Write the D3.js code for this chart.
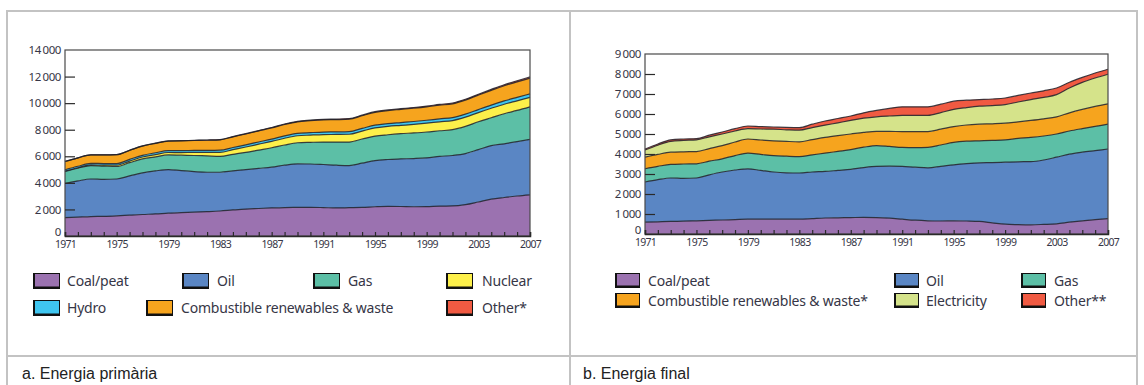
<!DOCTYPE html>
<html>
<head>
<meta charset="utf-8">
<script src="https://cdn.jsdelivr.net/npm/d3@7"></script>
<style>
  html, body { margin: 0; padding: 0; background: #fff; }
  svg { display: block; }
  .tick text { font-family: "Noto Sans", sans-serif; fill: #363646; }
  .leg { font-family: "Noto Sans", sans-serif; fill: #363646; font-size: 14px; }
  .cap { font-family: "Liberation Sans", Arial, sans-serif; fill: #222; font-size: 16px; }
</style>
</head>
<body>
<svg id="chart" width="1144" height="385"></svg>
<script>
// ---------- categories ----------
const years = [1971,1972,1973,1974,1975,1976,1977,1978,1979,1980,1981,1982,1983,1984,1985,1986,1987,1988,1989,1990,
               1991,1992,1993,1994,1995,1996,1997,1998,1999,2000,2001,2002,2003,2004,2005,2006,2007];
const yearLabels = [1971,1975,1979,1983,1987,1991,1995,1999,2003,2007];

// ---------- a. Energia primària (Mtoe) ----------
const pCoal = [1380,1420,1460,1480,1520,1570,1620,1660,1720,1760,1790,1830,1880,1960,2030,2070,2110,2140,2150,2160,
               2140,2110,2130,2150,2200,2230,2220,2200,2210,2250,2260,2360,2560,2770,2900,3010,3100];
const pOil  = [2580,2730,2830,2780,2770,2950,3130,3240,3280,3160,3060,2970,2920,2940,2970,3020,3070,3190,3280,3260,
               3240,3220,3170,3330,3480,3530,3580,3630,3670,3740,3800,3840,3940,4030,4040,4090,4170];
const pGas  = [890,950,1010,1000,940,1000,1050,1060,1100,1160,1210,1230,1200,1250,1300,1380,1460,1520,1590,1630,
               1690,1740,1770,1820,1840,1860,1900,1930,1950,1930,1940,2050,2100,2100,2260,2350,2450];
const pNuclear = [30,40,55,75,100,120,145,170,185,200,230,260,300,350,400,440,480,510,525,545,
                  565,575,590,600,615,630,625,640,660,675,690,695,690,715,720,725,710];
const pHydro = [105,108,110,120,123,125,128,135,140,145,148,152,158,162,165,168,170,175,176,184,
                189,190,200,202,210,212,216,220,222,225,221,225,225,238,250,259,265];
const pComb = [620,630,640,650,665,680,695,710,720,735,750,765,780,800,815,830,845,860,875,900,
               915,925,935,950,965,980,990,1000,1010,1025,1040,1060,1085,1110,1140,1165,1190];
const pOther = [6,6,7,7,8,9,10,11,12,13,15,17,20,23,26,28,30,32,35,37,
                39,40,42,44,46,48,50,52,55,58,60,64,68,73,78,84,90];

// ---------- b. Energia final (Mtoe) ----------
const fCoal = [590,610,630,640,660,680,700,720,740,740,740,740,740,770,800,810,820,830,820,790,
               740,690,660,650,660,650,630,560,490,470,460,480,510,590,660,720,770];
const fOil  = [2010,2110,2170,2140,2140,2280,2400,2480,2520,2440,2360,2320,2310,2330,2330,2370,2410,2490,2560,2600,
               2640,2650,2650,2730,2800,2870,2930,3010,3100,3140,3160,3220,3330,3400,3430,3450,3480];
const fGas  = [660,660,680,720,710,680,660,720,780,800,820,830,820,860,910,950,990,1020,1040,990,
               950,980,1020,1070,1120,1120,1100,1110,1120,1170,1210,1200,1160,1160,1180,1210,1240];
const fComb = [580,600,610,610,610,630,660,680,710,720,740,740,740,760,790,790,780,740,710,750,
               790,800,790,790,790,810,830,830,830,830,850,860,860,910,960,1000,1020];
const fElec = [360,460,540,570,590,590,580,550,520,550,580,580,580,600,610,640,680,710,730,770,
               810,810,810,830,860,870,900,910,930,990,1040,1070,1110,1240,1350,1420,1480];
const fOther = [50,60,80,70,60,80,100,115,130,120,110,120,130,170,210,215,220,270,320,380,
                430,430,430,420,410,370,330,330,330,330,330,330,330,290,250,250,250];

// ---------- ticks ----------
const pTicks = [0,2000,4000,6000,8000,10000,12000,14000];
const fTicks = [0,1000,2000,3000,4000,5000,6000,7000,8000,9000];

// ---------- colours ----------
const C = {
  coal: "#9b72b0", oil: "#5a86c4", gas: "#5cbfa6", nuclear: "#fdf04a",
  hydro: "#3fc6f0", comb: "#f6a41e", other: "#f05a42", elec: "#d5e38a"
};

const svg = d3.select("#chart");

// table borders
const grid = svg.append("g").attr("fill", "none").attr("stroke", "#c3c3c3").attr("stroke-width", 2);
grid.append("rect").attr("x", 7).attr("y", 11).attr("width", 1130).attr("height", 380);
grid.append("line").attr("x1", 570).attr("x2", 570).attr("y1", 11).attr("y2", 385);
grid.append("line").attr("x1", 7).attr("x2", 1137).attr("y1", 356).attr("y2", 356);

function fmt(v) { return v === 0 ? "0" : d3.format(",")(v).replace(",", "\u2009"); }

function drawChart(o) {
  const table = years.map((yr, i) => {
    const r = { year: yr };
    o.series.forEach(s => r[s.key] = s.values[i]);
    return r;
  });
  const keys = o.series.map(s => s.key);
  const stacked = d3.stack().keys(keys)(table);

  const x = d3.scaleLinear().domain([years[0], years[years.length - 1]]).range([o.x0, o.x1]);
  const y = d3.scaleLinear().domain([0, o.ymax]).range([o.y1, o.y0]);

  const g = svg.append("g");
  const area = d3.area().curve(d3.curveMonotoneX)
    .x(d => x(d.data.year)).y0(d => y(d[0])).y1(d => y(d[1]));
  const line = d3.line().curve(d3.curveMonotoneX)
    .x(d => x(d.data.year)).y(d => y(d[1]));

  g.selectAll("path.area").data(stacked).join("path")
    .attr("class", "area")
    .attr("fill", d => o.series[d.index].color)
    .attr("d", area);
  g.selectAll("path.edge").data(stacked).join("path")
    .attr("class", "edge")
    .attr("fill", "none").attr("stroke", "#1e1e28").attr("stroke-width", 1.2).attr("stroke-opacity", 0.85)
    .attr("d", line);

  // frame
  g.append("rect").attr("x", o.x0).attr("y", o.y0).attr("width", o.x1 - o.x0).attr("height", o.y1 - o.y0)
    .attr("fill", "none").attr("stroke", "#4a4a4a").attr("stroke-width", 1.2);

  // y axis
  const ya = g.append("g").attr("transform", `translate(${o.x0},0)`)
    .call(d3.axisLeft(y).tickValues(o.ticks).tickSize(-10).tickPadding(4).tickFormat(fmt));
  ya.select(".domain").remove();
  ya.selectAll(".tick line").attr("stroke", "#2a2a2a").attr("stroke-width", 1.2)
    .filter(d => d === 0 || d === o.ymax).remove();
  ya.selectAll(".tick text").attr("font-size", 11.5).attr("letter-spacing", -0.4);
  ya.selectAll(".tick text").filter(d => d === 0).attr("dy", "-0.05em");

  // x axis
  const xa = g.append("g").attr("transform", `translate(0,${o.y1})`)
    .call(d3.axisBottom(x).tickValues(years).tickSize(-4).tickPadding(5)
      .tickFormat(d => yearLabels.includes(d) ? String(d) : ""));
  xa.select(".domain").attr("stroke", "#2a2a2a").attr("stroke-width", 1.5);
  xa.selectAll(".tick line").attr("stroke", "#2a2a2a").attr("stroke-width", 1.2);
  xa.selectAll(".tick text").attr("font-size", 10.5).attr("letter-spacing", -0.7);

  // legend
  const lg = svg.append("g");
  o.legend.forEach(it => {
    lg.append("rect").attr("x", it.sx).attr("y", it.sy).attr("width", o.sw).attr("height", o.sh).attr("fill", "#111");
    lg.append("rect").attr("x", it.sx + 2).attr("y", it.sy + 1).attr("width", o.sw - 3).attr("height", o.sh - 3.5)
      .attr("fill", it.color);
    lg.append("text").attr("class", "leg").attr("x", it.tx).attr("y", it.sy + o.sh / 2).attr("dy", "0.36em")
      .attr("letter-spacing", -0.2).text(it.label);
  });

  svg.append("text").attr("class", "cap").attr("x", o.capx).attr("y", 379).text(o.caption);
}

drawChart({
  x0: 65, x1: 530, y0: 50, y1: 236, ymax: 14000, ticks: pTicks,
  series: [
    { key: "coal", values: pCoal, color: C.coal },
    { key: "oil", values: pOil, color: C.oil },
    { key: "gas", values: pGas, color: C.gas },
    { key: "nuclear", values: pNuclear, color: C.nuclear },
    { key: "hydro", values: pHydro, color: C.hydro },
    { key: "comb", values: pComb, color: C.comb },
    { key: "other", values: pOther, color: C.other }
  ],
  sw: 27, sh: 16,
  legend: [
    { label: "Coal/peat", color: C.coal, sx: 33, sy: 273, tx: 67 },
    { label: "Oil", color: C.oil, sx: 182, sy: 273, tx: 217 },
    { label: "Gas", color: C.gas, sx: 313, sy: 273, tx: 348 },
    { label: "Nuclear", color: C.nuclear, sx: 446, sy: 273, tx: 482 },
    { label: "Hydro", color: C.hydro, sx: 33, sy: 300, tx: 67 },
    { label: "Combustible renewables & waste", color: C.comb, sx: 146, sy: 300, tx: 181 },
    { label: "Other*", color: C.other, sx: 446, sy: 300, tx: 482 }
  ],
  capx: 22, caption: "a. Energia primària"
});

drawChart({
  x0: 645, x1: 1108, y0: 54, y1: 234, ymax: 9000, ticks: fTicks,
  series: [
    { key: "coal", values: fCoal, color: C.coal },
    { key: "oil", values: fOil, color: C.oil },
    { key: "gas", values: fGas, color: C.gas },
    { key: "comb", values: fComb, color: C.comb },
    { key: "elec", values: fElec, color: C.elec },
    { key: "other", values: fOther, color: C.other }
  ],
  sw: 25, sh: 15,
  legend: [
    { label: "Coal/peat", color: C.coal, sx: 615, sy: 273, tx: 648 },
    { label: "Oil", color: C.oil, sx: 894, sy: 273, tx: 926 },
    { label: "Gas", color: C.gas, sx: 1021, sy: 273, tx: 1054 },
    { label: "Combustible renewables & waste*", color: C.comb, sx: 615, sy: 293, tx: 648 },
    { label: "Electricity", color: C.elec, sx: 894, sy: 293, tx: 926 },
    { label: "Other**", color: C.other, sx: 1021, sy: 293, tx: 1054 }
  ],
  capx: 583, caption: "b. Energia final"
});
</script>
</body>
</html>
